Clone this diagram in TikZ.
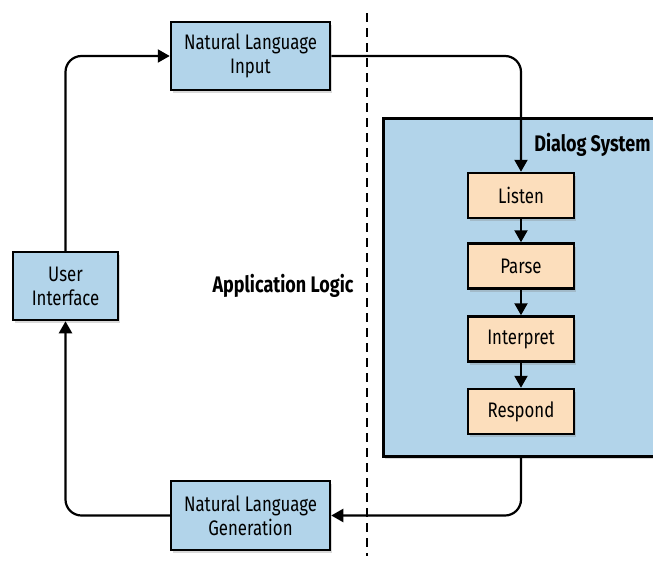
\documentclass[tikz,border=0pt]{standalone}
\usepackage{fontspec}
\setmainfont{Fira Sans}[FakeStretch=0.8]
\usepackage{tikz}
\usetikzlibrary{arrows.meta,shadows}
\definecolor{boxblue}{RGB}{178,212,234}
\definecolor{boxpeach}{RGB}{252,222,188}

\begin{document}
\begin{tikzpicture}[x=1pt, y=-1pt,
            box/.style={draw, line width=2.5pt, fill=boxblue, align=center,
                inner sep=0pt, font=\fontsize{21}{24}\selectfont,
                drop shadow={shadow xshift=2pt, shadow yshift=-3pt, opacity=0.3}},
            stage/.style={box, fill=boxpeach, minimum width=106, minimum height=45},
            link/.style={line width=2.2pt, rounded corners=16pt, -{Triangle[length=12pt, width=13pt]}},
            heading/.style={font=\bfseries\fontsize{22.5}{26}\selectfont}]
            \useasboundingbox (0,0) rectangle (653,562);
            \clip (0,0) rectangle (653,562);
            \node[box, minimum width=159, minimum height=68] (nli) at (250.5,56) {Natural Language\\Input};
            \node[box, minimum width=105, minimum height=68] (ui) at (65.5,286) {User\\Interface};
            \node[box, minimum width=159, minimum height=69] (nlg) at (250.5,515.5) {Natural Language\\Generation};
            \draw[line width=2.5pt, dash pattern=on 9pt off 6pt] (367,13) coordinate (top) -- (367,556) coordinate (bot);
            \node[heading, anchor=east] (app) at (357,286) {Application Logic};
            \node[box, minimum width=300, minimum height=338, anchor=north west] (dlg) at (382,117) {};
            \node[heading, anchor=east] (dlgname) at (654,145) {Dialog System};
            \node[stage] (listen) at (521,195.5) {Listen};
            \node[stage] (parse) at (521,266) {Parse};
            \node[stage] (interp) at (521,339) {Interpret};
            \node[stage] (respond) at (521,411.5) {Respond};
            \draw[link] (ui.north) |- (nli.west);
            \draw[link] (nli.east) -| (listen.north);
            \draw[link] (listen) -- (parse);
            \draw[link] (parse) -- (interp);
            \draw[link] (interp) -- (respond);
            \draw[link] (respond |- dlg.south) |- (nlg.east);
            \draw[link] (nlg.west) -| (ui.south);
        \end{tikzpicture}
\end{document}
